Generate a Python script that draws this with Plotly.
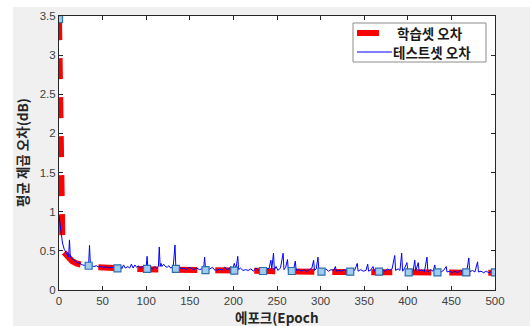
import plotly.graph_objects as go

# ---- data ----
train_epoch = [0, 1, 2, 3, 4, 5, 8, 10, 15, 20, 25, 30, 40, 50, 60, 70, 80, 100, 120, 150,
               200, 250, 300, 350, 400, 450, 500]
train_err = [3.46, 2.2, 1.1, 0.62, 0.5, 0.49, 0.45, 0.42, 0.37, 0.34, 0.32, 0.31, 0.295, 0.285,
             0.28, 0.275, 0.27, 0.265, 0.26, 0.255, 0.245, 0.238, 0.232, 0.228, 0.225, 0.222, 0.22]

test_epoch = [0, 2, 4, 6, 8, 10, 11, 12, 13, 15, 17, 19, 21, 23, 25, 27, 29, 31, 33, 34, 35, 36,
              38, 40, 43, 45, 48, 51, 54, 57, 60, 63, 66, 69, 71, 72, 74, 76, 79, 81, 83, 85, 87,
              89, 91, 93, 96, 98, 100, 101, 102, 104, 107, 110, 112, 114, 115, 116, 117, 118, 120,
              122, 124, 126, 128, 131, 133, 134, 136, 138, 140, 143, 146, 149, 152, 155, 158, 161,
              164, 166, 167, 168, 170, 173, 176, 178, 181, 184, 187, 190, 193, 195, 197, 199, 201,
              203, 205, 206, 208, 211, 214, 217, 220, 223, 226, 229, 232, 235, 238, 241, 243, 244,
              246, 247, 249, 251, 254, 257, 258, 260, 262, 263, 266, 269, 271, 272, 275, 278, 281,
              284, 287, 290, 292, 293, 295, 297, 298, 300, 303, 306, 309, 312, 315, 317, 318, 321,
              324, 327, 330, 333, 336, 339, 342, 343, 346, 349, 352, 354, 355, 358, 360, 362, 365,
              368, 371, 374, 377, 379, 382, 385, 386, 389, 391, 393, 394, 396, 399, 400, 403, 406,
              408, 409, 412, 413, 416, 419, 422, 423, 426, 429, 431, 432, 435, 438, 441, 444, 445,
              448, 451, 454, 457, 460, 463, 466, 468, 470, 471, 474, 477, 480, 481, 484, 487, 490,
              493, 496, 500]
test_err = [0.95, 0.75, 0.6, 0.52, 0.47, 0.44, 0.42, 0.64, 0.42, 0.4, 0.38, 0.36, 0.35, 0.345,
            0.33, 0.32, 0.315, 0.31, 0.31, 0.33, 0.57, 0.32, 0.305, 0.3, 0.31, 0.295, 0.3, 0.29,
            0.295, 0.285, 0.29, 0.285, 0.28, 0.29, 0.3, 0.27, 0.32, 0.28, 0.3, 0.28, 0.33, 0.28,
            0.32, 0.29, 0.31, 0.28, 0.3, 0.27, 0.29, 0.43, 0.27, 0.29, 0.27, 0.3, 0.28, 0.3, 0.55,
            0.3, 0.34, 0.3, 0.33, 0.3, 0.29, 0.31, 0.28, 0.3, 0.575, 0.29, 0.27, 0.3, 0.27, 0.28,
            0.26, 0.29, 0.27, 0.26, 0.28, 0.26, 0.27, 0.29, 0.42, 0.26, 0.25, 0.27, 0.29, 0.26,
            0.25, 0.27, 0.25, 0.29, 0.26, 0.27, 0.3, 0.26, 0.34, 0.27, 0.43, 0.26, 0.28, 0.25,
            0.26, 0.25, 0.27, 0.24, 0.28, 0.25, 0.26, 0.24, 0.26, 0.28, 0.38, 0.27, 0.47, 0.26,
            0.3, 0.25, 0.28, 0.47, 0.26, 0.29, 0.39, 0.25, 0.27, 0.26, 0.37, 0.25, 0.26, 0.24,
            0.26, 0.24, 0.26, 0.28, 0.38, 0.25, 0.27, 0.42, 0.25, 0.24, 0.25, 0.27, 0.24, 0.26,
            0.25, 0.3, 0.24, 0.25, 0.24, 0.26, 0.24, 0.25, 0.26, 0.25, 0.34, 0.24, 0.26, 0.24,
            0.25, 0.33, 0.24, 0.26, 0.3, 0.24, 0.26, 0.24, 0.26, 0.24, 0.27, 0.25, 0.27, 0.44,
            0.25, 0.27, 0.25, 0.47, 0.24, 0.27, 0.35, 0.24, 0.26, 0.24, 0.38, 0.24, 0.35, 0.24,
            0.26, 0.23, 0.42, 0.23, 0.26, 0.24, 0.32, 0.23, 0.25, 0.23, 0.25, 0.3, 0.23, 0.24,
            0.22, 0.24, 0.22, 0.25, 0.23, 0.25, 0.27, 0.41, 0.23, 0.25, 0.23, 0.36, 0.23, 0.24,
            0.22, 0.24, 0.22, 0.235, 0.225]

marker_epoch = [0, 34, 67, 101, 134, 168, 201, 234, 267, 301, 334, 367, 401, 434, 467, 500]
marker_err = [3.46, 0.31, 0.277, 0.27, 0.27, 0.255, 0.247, 0.243, 0.243, 0.234, 0.234, 0.234,
              0.226, 0.226, 0.226, 0.226]

x_ticks = [0, 50, 100, 150, 200, 250, 300, 350, 400, 450, 500]
y_ticks = [0, 0.5, 1, 1.5, 2, 2.5, 3, 3.5]
y_tick_text = ["0", "0.5", "1", "1.5", "2", "2.5", "3", "3.5"]
legend_names = ["학습셋 오차", "테스트셋 오차"]
x_title = "에포크(Epoch"
y_title = "평균 제곱 오차(dB)"

# ---- layout geometry (pixels) ----
W, H = 530, 326
L, R, T, B = 59, 35, 16, 36
pw, ph = W - L - R, H - T - B


def px(x):
    return (x - L) / pw


def py(y):
    return (H - B - y) / ph


KFONT = "Noto Sans CJK KR, Noto Sans, sans-serif"
NFONT = "Liberation Sans, Arial, sans-serif"
AX = "#262626"

fig = go.Figure()
fig.add_trace(go.Scatter(x=train_epoch, y=train_err, mode="lines", name=legend_names[0],
                         line=dict(color="#ff0000", width=6, dash="21px,18px"),
                         showlegend=False))
fig.add_trace(go.Scatter(x=test_epoch, y=test_err, mode="lines", name=legend_names[1],
                         line=dict(color="#0000ff", width=1), showlegend=False))
fig.add_trace(go.Scatter(x=marker_epoch, y=marker_err, mode="markers", showlegend=False,
                         marker=dict(symbol="square", size=7, color="#9ecdf0",
                                     line=dict(color="#2f6fae", width=1.2))))

shapes = [
    # MATLAB grey figure background
    dict(type="rect", xref="paper", yref="paper", x0=px(13), x1=px(W + 5), y0=py(7), y1=py(H + 5),
         fillcolor="#f0f0f0", line=dict(width=0), layer="below"),
    # white axes background
    dict(type="rect", xref="paper", yref="paper", x0=0, x1=1, y0=0, y1=1,
         fillcolor="white", line=dict(width=0), layer="below"),
    # legend box
    dict(type="rect", xref="paper", yref="paper", x0=px(353), x1=px(486), y0=py(62), y1=py(23),
         fillcolor="white", line=dict(color="#8c8c8c", width=1), layer="above"),
    dict(type="line", xref="paper", yref="paper", x0=px(357), x1=px(379), y0=py(33), y1=py(33),
         line=dict(color="#ff0000", width=6), layer="above"),
    dict(type="line", xref="paper", yref="paper", x0=px(357), x1=px(392), y0=py(52), y1=py(52),
         line=dict(color="#0000ff", width=1), layer="above"),
]

annotations = [
    dict(x=px(395), y=py(33), xref="paper", yref="paper", text="<b>" + legend_names[0] + "</b>",
         showarrow=False, xanchor="left", yanchor="middle",
         font=dict(family=KFONT, size=13.5, color="#1a1a1a")),
    dict(x=px(391), y=py(52), xref="paper", yref="paper", text="<b>" + legend_names[1] + "</b>",
         showarrow=False, xanchor="left", yanchor="middle",
         font=dict(family=KFONT, size=13.5, color="#1a1a1a")),
    dict(x=px(277), y=py(317), xref="paper", yref="paper", text="<b>" + x_title + "</b>",
         showarrow=False, xanchor="center", yanchor="middle",
         font=dict(family=KFONT, size=13.5, color="#262626")),
    dict(x=px(22), y=py(153), xref="paper", yref="paper", text="<b>" + y_title + "</b>",
         showarrow=False, xanchor="center", yanchor="middle", textangle=-90,
         font=dict(family=KFONT, size=13.5, color="#262626")),
]

fig.update_layout(
    width=W, height=H,
    margin=dict(l=L, r=R, t=T, b=B, pad=0, autoexpand=False),
    paper_bgcolor="white", plot_bgcolor="rgba(0,0,0,0)",
    showlegend=False, hovermode=False,
    shapes=shapes, annotations=annotations,
)
fig.update_xaxes(range=[0, 500], tickvals=x_ticks, showgrid=False, zeroline=False,
                 showline=True, linecolor=AX, linewidth=1, mirror="ticks",
                 ticks="inside", ticklen=4, tickcolor=AX, automargin=False,
                 tickfont=dict(family=NFONT, size=11.5, color="#404040"))
fig.update_yaxes(range=[0, 3.5], tickvals=y_ticks, ticktext=y_tick_text, showgrid=False,
                 zeroline=False, showline=True, linecolor=AX, linewidth=1, mirror="ticks",
                 ticks="inside", ticklen=4, tickcolor=AX, automargin=False,
                 tickfont=dict(family=NFONT, size=11.5, color="#404040"))

fig.write_html("out.html", config={"displayModeBar": False, "staticPlot": True},
               post_script="document.body.style.margin='0px';document.body.style.overflow='hidden';")
